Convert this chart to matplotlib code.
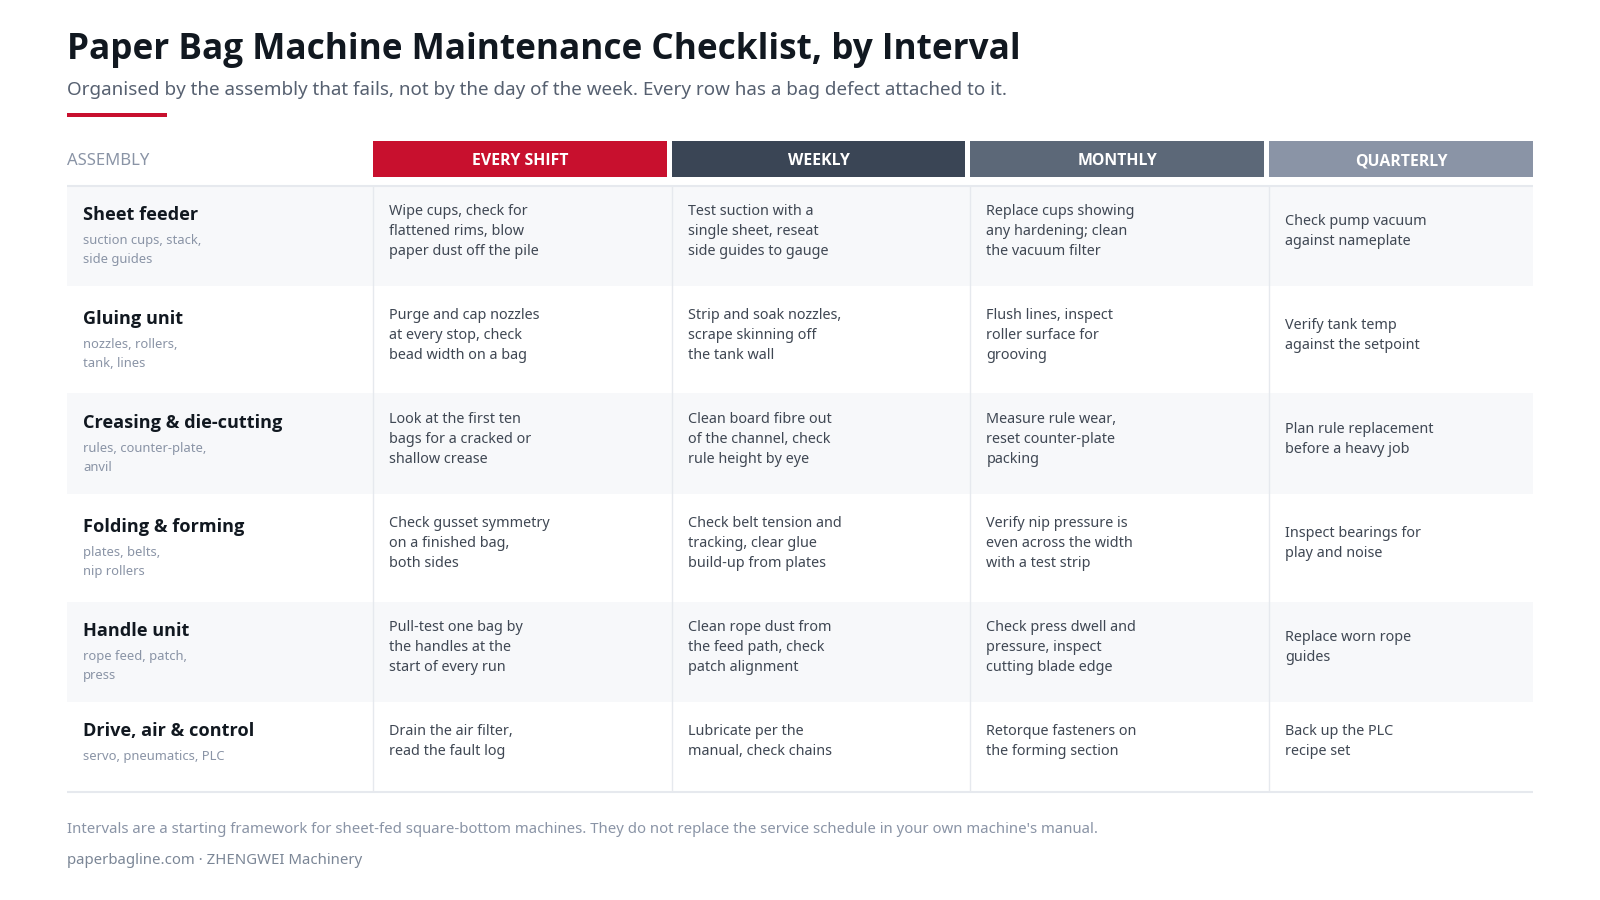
import matplotlib
matplotlib.use('Agg')
import matplotlib.pyplot as plt
from matplotlib.patches import Rectangle

plt.rcParams['font.family'] = ['Noto Sans', 'DejaVu Sans']
bold_family = ['Open Sans', 'DejaVu Sans']

# Table content
intervals = ['EVERY SHIFT', 'WEEKLY', 'MONTHLY', 'QUARTERLY']
assemblies = ['Sheet feeder', 'Gluing unit', 'Creasing & die-cutting',
              'Folding & forming', 'Handle unit', 'Drive, air & control']
parts = ['suction cups, stack,\nside guides', 'nozzles, rollers,\ntank, lines',
         'rules, counter-plate,\nanvil', 'plates, belts,\nnip rollers',
         'rope feed, patch,\npress', 'servo, pneumatics, PLC']
every_shift = ['Wipe cups, check for\nflattened rims, blow\npaper dust off the pile',
               'Purge and cap nozzles\nat every stop, check\nbead width on a bag',
               'Look at the first ten\nbags for a cracked or\nshallow crease',
               'Check gusset symmetry\non a finished bag,\nboth sides',
               'Pull-test one bag by\nthe handles at the\nstart of every run',
               'Drain the air filter,\nread the fault log']
weekly = ['Test suction with a\nsingle sheet, reseat\nside guides to gauge',
          'Strip and soak nozzles,\nscrape skinning off\nthe tank wall',
          'Clean board fibre out\nof the channel, check\nrule height by eye',
          'Check belt tension and\ntracking, clear glue\nbuild-up from plates',
          'Clean rope dust from\nthe feed path, check\npatch alignment',
          'Lubricate per the\nmanual, check chains']
monthly = ['Replace cups showing\nany hardening; clean\nthe vacuum filter',
           'Flush lines, inspect\nroller surface for\ngrooving',
           'Measure rule wear,\nreset counter-plate\npacking',
           'Verify nip pressure is\neven across the width\nwith a test strip',
           'Check press dwell and\npressure, inspect\ncutting blade edge',
           'Retorque fasteners on\nthe forming section']
quarterly = ['Check pump vacuum\nagainst nameplate',
             'Verify tank temp\nagainst the setpoint',
             'Plan rule replacement\nbefore a heavy job',
             'Inspect bearings for\nplay and noise',
             'Replace worn rope\nguides',
             'Back up the PLC\nrecipe set']
columns = [every_shift, weekly, monthly, quarterly]

title = 'Paper Bag Machine Maintenance Checklist, by Interval'
subtitle = 'Organised by the assembly that fails, not by the day of the week. Every row has a bag defect attached to it.'
note = "Intervals are a starting framework for sheet-fed square-bottom machines. They do not replace the service schedule in your own machine's manual."
source = 'paperbagline.com · ZHENGWEI Machinery'

# Layout, in pixels of the 1600x900 picture
left, right = 67, 1533
col_x = [373.3, 671.8, 970.4, 1269.2, 1533]
row_y = [186, 286, 393, 494, 602, 702, 791]
first_base = [215.3, 319.3, 423.3, 527.3, 631.3, 735.3]
head_colors = ['#c8102e', '#3a4555', '#5c6878', '#8a94a6']

ink = '#111820'
body = '#3f4753'
muted = '#8a94a6'
rule = '#e6e9ee'

fig = plt.figure(figsize=(16, 9), dpi=100)
ax = fig.add_axes([0, 0, 1, 1])
ax.set_xlim(0, 1600)
ax.set_ylim(900, 0)
ax.set_axis_off()

ax.text(left, 59, title, fontsize=25.3, fontweight='bold', family=bold_family, color=ink)
ax.text(left, 95, subtitle, fontsize=13.55, color='#566070')
ax.add_patch(Rectangle((left, 113), 100, 4, fc='#c8102e', ec='none'))

# Header
ax.text(left, 165, 'ASSEMBLY', fontsize=12, color=muted)
for i, name in enumerate(intervals):
    x0 = col_x[i]
    x1 = col_x[i + 1] - (5.3 if i < 3 else 0)
    ax.add_patch(Rectangle((x0, 141), x1 - x0, 36, fc=head_colors[i], ec='none'))
    ax.text((x0 + x1) / 2, 165, name, fontsize=11.4, fontweight='bold', family=bold_family, color='white', ha='center')

# Alternate row bands
for r in range(0, 6, 2):
    ax.add_patch(Rectangle((left, row_y[r]), right - left, row_y[r + 1] - row_y[r], fc='#f7f8fa', ec='none'))

# Rules
for x in col_x[:-1]:
    ax.plot([x, x], [row_y[0], row_y[-1]], color=rule, lw=1.0, solid_capstyle='butt')
ax.plot([left, right], [185.5, 185.5], color=rule, lw=1.5, solid_capstyle='butt')
ax.plot([left, right], [791.5, 791.5], color=rule, lw=1.5, solid_capstyle='butt')

# Rows
for r, name in enumerate(assemblies):
    three_lines = r < 5
    name_base = first_base[r] + (5 if three_lines else 1)
    ax.text(83, name_base, name, fontsize=13.05, fontweight='bold', family=bold_family, color=ink)
    for k, line in enumerate(parts[r].split('\n')):
        ax.text(83, name_base + 23.7 + k * 18.7, line, fontsize=9.35, color=muted)
    for c, cells in enumerate(columns):
        lines = cells[r].split('\n')
        # two line cells sit centred against the three line ones, except in the short last row
        shift = 10 if len(lines) == 2 and three_lines else 0
        for k, line in enumerate(lines):
            ax.text(col_x[c] + 16, first_base[r] + shift + k * 20, line, fontsize=10.35, color=body)

ax.text(left, 833.3, note, fontsize=10.75, color=muted)
ax.text(left, 864.3, source, fontsize=10.75, color='#7b8696')

fig.savefig('out.png', dpi=100, facecolor='white')
